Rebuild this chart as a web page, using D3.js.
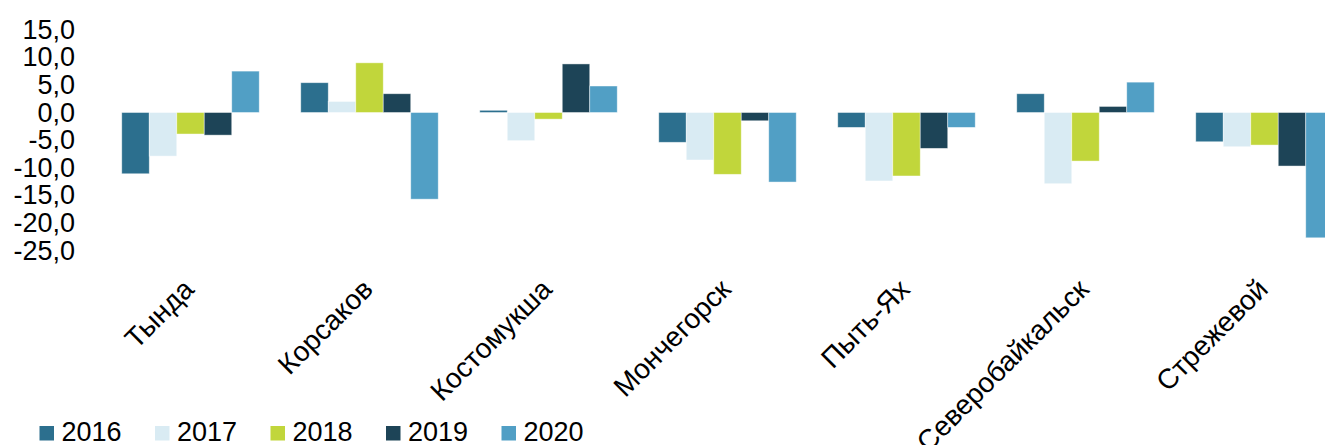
<!DOCTYPE html>
<html>
<head>
<meta charset="utf-8">
<script src="https://cdn.jsdelivr.net/npm/d3@7"></script>
<style>
  html, body { margin: 0; padding: 0; background: #fff; }
  svg { display: block; }
  text { font-family: "Liberation Sans", Arial, sans-serif; fill: #000; }
</style>
</head>
<body>
<div id="chart"></div>
<script>
const categories = ["Тында", "Корсаков", "Костомукша", "Мончегорск", "Пыть-Ях", "Северобайкальск", "Стрежевой"];
const years = ["2016", "2017", "2018", "2019", "2020"];
const v2016 = [-11.1, 5.4, 0.4, -5.4, -2.7, 3.4, -5.3];
const v2017 = [-7.9, 2.0, -5.1, -8.6, -12.4, -12.9, -6.2];
const v2018 = [-3.9, 9.0, -1.2, -11.2, -11.5, -8.8, -5.9];
const v2019 = [-4.1, 3.4, 8.8, -1.5, -6.5, 1.1, -9.7];
const v2020 = [7.5, -15.7, 4.8, -12.6, -2.7, 5.5, -22.7];
const yTicks = [15, 10, 5, 0, -5, -10, -15, -20, -25];
const colors = ["#2c6f8e", "#d9ebf3", "#c1d63b", "#1d4457", "#519fc5"];

const seriesValues = [v2016, v2017, v2018, v2019, v2020];
const W = 1325, H = 445;

const svg = d3.select("#chart").append("svg").attr("width", W).attr("height", H);

const y = d3.scaleLinear().domain([-25, 15]).range([250.5, 29.7]);
const x0 = d3.scaleBand().domain(categories).range([101, 1354]).paddingInner(0.232).paddingOuter(0.116);
const x1 = d3.scaleBand().domain(years).range([0, x0.bandwidth()]).padding(0);
const color = d3.scaleOrdinal().domain(years).range(colors);

const fmt = v => d3.format(".1f")(v).replace(".", ",").replace("−", "-");

// Y axis (labels only)
const yAxis = d3.axisLeft(y).tickValues(yTicks).tickSize(0).tickPadding(0).tickFormat(fmt);
const gy = svg.append("g").attr("transform", "translate(75,0)").call(yAxis);
gy.select(".domain").remove();
gy.selectAll("text").style("font-size", "27px").style("font-family", '"Liberation Sans", Arial, sans-serif').attr("fill", "#000");

// Bars
const rows = categories.map((c, i) => ({ c, vals: years.map((yr, j) => ({ yr, v: seriesValues[j][i] })) }));
const groups = svg.append("g").selectAll("g").data(rows).join("g")
  .attr("transform", d => `translate(${x0(d.c)},0)`);
groups.selectAll("rect").data(d => d.vals).join("rect")
  .attr("x", d => x1(d.yr))
  .attr("width", x1.bandwidth())
  .attr("y", d => y(Math.max(0, d.v)))
  .attr("height", d => Math.abs(y(d.v) - y(0)))
  .attr("fill", d => color(d.yr))
  .attr("stroke", "rgba(255,255,255,0.55)")
  .attr("stroke-width", 0.8);

// Category labels
svg.append("g").selectAll("text").data(categories).join("text")
  .attr("transform", d => `translate(${x0(d) + x0.bandwidth() / 2 + 5},291) rotate(-45)`)
  .attr("text-anchor", "end")
  .style("font-size", "28px")
  .text(d => d);

// Legend
const legend = svg.append("g").selectAll("g").data(years).join("g")
  .attr("transform", (d, i) => `translate(${39.5 + i * 115.5},0)`);
legend.append("rect").attr("x", 0).attr("y", 426).attr("width", 14.5).attr("height", 14.5)
  .attr("fill", d => color(d));
legend.append("text").attr("x", 22).attr("y", 441).style("font-size", "27px").text(d => d);
</script>
</body>
</html>
